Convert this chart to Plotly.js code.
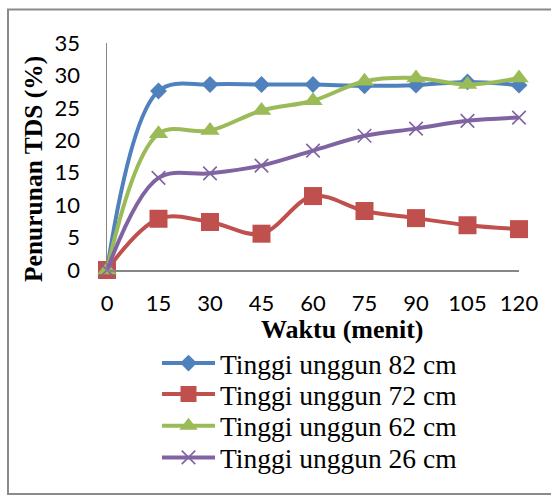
<!DOCTYPE html>
<html>
<head>
<meta charset="utf-8">
<script src="https://cdn.plot.ly/plotly-3.0.1.min.js"></script>
<style>html,body{margin:0;padding:0;background:#fff;}#chart{width:551px;height:496px;}</style>
</head>
<body>
<div id="chart"></div>
<script>
// Data
const waktu = [0, 15, 30, 45, 60, 75, 90, 105, 120];
const tickLabelsX = ['0', '15', '30', '45', '60', '75', '90', '105', '120'];
const tickValsY = [0, 5, 10, 15, 20, 25, 30, 35];
const seriesNames = ['Tinggi unggun 82 cm', 'Tinggi unggun 72 cm', 'Tinggi unggun 62 cm', 'Tinggi unggun 26 cm'];
const tinggi82 = [0, 27.6, 28.6, 28.6, 28.6, 28.4, 28.5, 29.0, 28.5];
const tinggi72 = [0, 7.9, 7.4, 5.6, 11.4, 9.1, 8.0, 6.9, 6.3];
const tinggi62 = [0, 21.0, 21.5, 24.6, 26.1, 29.1, 29.6, 28.6, 29.6];
const tinggi26 = [0, 14.2, 14.9, 16.1, 18.4, 20.7, 21.8, 23.0, 23.5];

const W = 551, H = 496;
const plotL = 107, plotR = 519, plotT = 43, plotB = 270;
const pw = plotR - plotL, ph = plotB - plotT;
const px = x => (x - plotL) / pw;
const py = y => (plotB - y) / ph;

const colors = ['#4F81BD', '#C0504D', '#9BBB59', '#8064A2'];
const values = [tinggi82, tinggi72, tinggi62, tinggi26];
const markers = [
  {symbol: 'diamond', size: 13},
  {symbol: 'square', size: 18},
  {symbol: 'triangle-up', size: 17},
  {symbol: 'x-thin-open', size: 13.5}
];
const legendIds = ['legend', 'legend2', 'legend3', 'legend4'];
const legendY = [363.2, 394.2, 425.8, 457.5];

const traces = values.map((v, i) => ({
  type: 'scatter', mode: 'lines+markers', x: waktu, y: v, name: seriesNames[i],
  legend: legendIds[i],
  line: {color: colors[i], width: 4, shape: 'spline', smoothing: 1},
  marker: {symbol: markers[i].symbol, size: markers[i].size, color: colors[i],
           line: {color: colors[i], width: i === 3 ? 1.6 : 0}},
  cliponaxis: false
}));

const legendBase = (yy) => ({
  x: 157 / W, y: 1 - yy / H, xref: 'container', yref: 'container',
  xanchor: 'left', yanchor: 'middle', orientation: 'v',
  font: {family: 'Liberation Serif, Times New Roman, serif', size: 27.5, color: '#000'},
  itemwidth: 53, bgcolor: 'rgba(0,0,0,0)', borderwidth: 0
});

const layout = {
  width: W, height: H,
  margin: {l: plotL, r: W - plotR, t: plotT, b: H - plotB, pad: 0, autoexpand: false},
  paper_bgcolor: '#fff', plot_bgcolor: '#fff',
  showlegend: true,
  xaxis: {
    range: [0, 120], tickvals: waktu, ticktext: tickLabelsX, ticks: '',
    showgrid: false, zeroline: false, showline: true, linecolor: '#868686', linewidth: 1.5,
    tickfont: {family: 'Lato, Open Sans, sans-serif', size: 22, color: '#000'},
    ticklabelstandoff: 13, fixedrange: true, automargin: false
  },
  yaxis: {
    range: [0, 35], tickvals: tickValsY, ticks: '',
    showgrid: false, zeroline: false, showline: true, linecolor: '#868686', linewidth: 1.5,
    tickfont: {family: 'Lato, Open Sans, sans-serif', size: 22, color: '#000'},
    ticklabelstandoff: 21, fixedrange: true, automargin: false
  },
  annotations: [
    {text: '<b>Penurunan TDS (%)</b>', xref: 'paper', yref: 'paper', x: px(33), y: py(169),
     xanchor: 'center', yanchor: 'middle', textangle: -90, showarrow: false,
     font: {family: 'Liberation Serif, Times New Roman, serif', size: 25.5, color: '#000'}},
    {text: '<b>Waktu (menit)</b>', xref: 'paper', yref: 'paper', x: px(342.5), y: py(329),
     xanchor: 'center', yanchor: 'middle', showarrow: false,
     font: {family: 'Liberation Serif, Times New Roman, serif', size: 26, color: '#000'}}
  ],
  shapes: [
    {type: 'rect', xref: 'paper', yref: 'paper', x0: px(8), x1: px(556), y0: py(494), y1: py(9.5),
     line: {color: '#8a8a8a', width: 2}, fillcolor: 'rgba(0,0,0,0)', layer: 'below'}
  ]
};
legendIds.forEach((id, i) => { layout[id] = legendBase(legendY[i]); });

Plotly.newPlot('chart', traces, layout, {staticPlot: true, displayModeBar: false});
</script>
</body>
</html>
